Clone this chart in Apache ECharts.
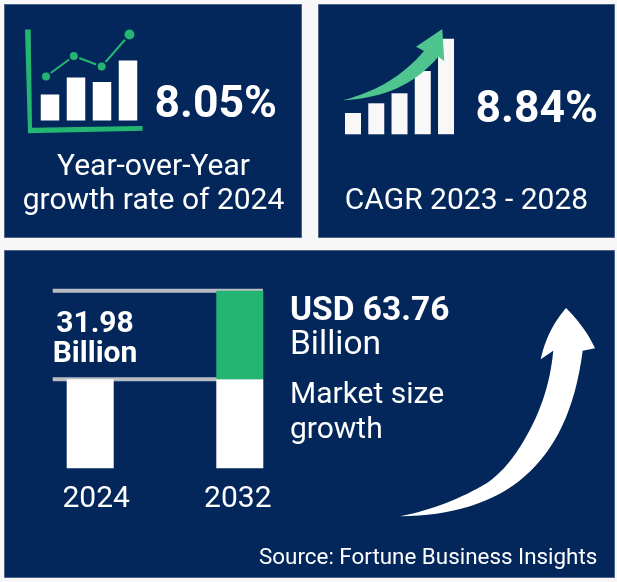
<!DOCTYPE html>
<html>
<head>
<meta charset="utf-8">
<title>Market size growth</title>
<script src="https://cdn.jsdelivr.net/npm/echarts@6/dist/echarts.min.js"></script>
<style>
html,body{margin:0;padding:0;background:#f7f7f8;}
#main{width:617px;height:582px;}
</style>
</head>
<body>
<div id="main"></div>
<script>
// main chart data (USD billion)
var years = ['2024', '2032'];
var baseValues = [31.98, 31.98];
var growthValues = [0, 31.78];
var guideValues = [31.98, 63.76];

// icon data
var yoyBars = [26, 43, 38.5, 60];
var yoyLine = [44, 64.5, 54, 86];
var cagrBars = [21.3, 31, 41, 63.3, 95.6];

var NAVY = '#03275a';
var GREEN = '#25b573';
var FONT = 'Roboto';

function panel(x, y, w, h) {
	return {
		type: 'rect', z: 0, silent: true,
		shape: { x: x, y: y, width: w, height: h },
		style: { fill: NAVY, stroke: '#4a6288', lineWidth: 1 }
	};
}
function label(text, x, y, size, weight, align) {
	return {
		type: 'text', z: 10, silent: true, x: x, y: y,
		style: {
			text: text, fill: '#fff', font: (weight || 400) + ' ' + size + 'px ' + FONT,
			textAlign: align || 'left', textVerticalAlign: 'middle'
		}
	};
}
function guide(v) {
	return {
		type: 'line', xAxisIndex: 1, yAxisIndex: 0, z: 1, silent: true, clip: false,
		showSymbol: false, symbol: 'none',
		lineStyle: { color: '#b9bdc4', width: 4 },
		data: [[0.1247, v], [0.8275, v]]
	};
}
function hiddenCat(grid, data, gap) {
	return { type: 'category', gridIndex: grid, data: data, show: false, boundaryGap: gap };
}
function hiddenVal(grid, max) {
	return { type: 'value', gridIndex: grid, min: 0, max: max, show: false };
}
// arrow outline: a point is [x,y], a curve is [c1x,c1y,c2x,c2y,x,y]
function outline(parts) {
	var pts = [parts[0]], i, k, t, s, p, c;
	for (i = 1; i < parts.length; i++) {
		c = parts[i];
		if (c.length == 2) { pts.push(c); continue; }
		p = pts[pts.length - 1];
		for (k = 1; k <= 16; k++) {
			t = k / 16; s = 1 - t;
			pts.push([
				s * s * s * p[0] + 3 * s * s * t * c[0] + 3 * s * t * t * c[2] + t * t * t * c[4],
				s * s * s * p[1] + 3 * s * s * t * c[1] + 3 * s * t * t * c[3] + t * t * t * c[5]
			]);
		}
	}
	return pts;
}

var myChart = echarts.init(document.getElementById('main'));
var option = {
	animation: false,
	backgroundColor: '#f7f7f8',
	grid: [
		{ left: 15.4, width: 299.2, top: 290.7, height: 177.6 },
		{ left: 37, width: 104, top: 20.5, height: 100 },
		{ left: 46, width: 83.5, top: 20.5, height: 100 },
		{ left: 341.4, width: 116.25, top: 34.3, height: 100 }
	],
	xAxis: [
		{
			type: 'category', gridIndex: 0, data: years,
			axisLine: { show: false }, axisTick: { show: false },
			axisLabel: {
				margin: 16,
				formatter: function (v) { return '{y' + v + '|' + v + '}'; },
				rich: {
					y2024: { color: '#fff', fontFamily: FONT, fontSize: 30, padding: [0, 0, 0, 12] },
					y2032: { color: '#fff', fontFamily: FONT, fontSize: 30, padding: [0, 4, 0, 0] }
				}
			}
		},
		{ type: 'value', gridIndex: 0, min: 0, max: 1, show: false },
		hiddenCat(1, ['a', 'b', 'c', 'd'], true),
		hiddenCat(2, ['a', 'b', 'c', 'd'], false),
		hiddenCat(3, ['a', 'b', 'c', 'd', 'e'], true)
	],
	yAxis: [
		{ type: 'value', gridIndex: 0, min: 0, max: 63.76, show: false },
		hiddenVal(1, 100),
		hiddenVal(2, 100),
		hiddenVal(3, 100)
	],
	series: [
		guide(guideValues[0]),
		guide(guideValues[1]),
		{
			type: 'bar', xAxisIndex: 0, yAxisIndex: 0, stack: 'size', barWidth: 47, z: 2, silent: true,
			itemStyle: { color: '#fff' }, data: baseValues
		},
		{
			type: 'bar', xAxisIndex: 0, yAxisIndex: 0, stack: 'size', barWidth: 47, z: 2, silent: true,
			itemStyle: { color: GREEN }, data: growthValues
		},
		{
			type: 'bar', xAxisIndex: 2, yAxisIndex: 1, barWidth: 18.5, silent: true,
			itemStyle: { color: '#fff' }, data: yoyBars
		},
		{
			type: 'line', xAxisIndex: 3, yAxisIndex: 2, silent: true, symbol: 'circle',
			symbolSize: function (v, p) { return p.dataIndex == 3 ? 12 : 10; },
			lineStyle: { color: GREEN, width: 2 },
			itemStyle: { color: GREEN, borderColor: NAVY, borderWidth: 2 },
			data: yoyLine
		},
		{
			type: 'bar', xAxisIndex: 4, yAxisIndex: 3, barWidth: 16, silent: true,
			itemStyle: { color: '#f8f8f8' }, data: cagrBars
		}
	],
	graphic: [
		panel(4.5, 4.5, 297, 233),
		panel(318.5, 4.5, 296, 233),
		panel(4.5, 250.5, 610, 327),
		// green axes of the first icon
		{
			type: 'polygon', z: 1, silent: true,
			shape: { points: [[25, 29.5], [30.7, 29.5], [32, 127.7], [142.5, 126], [142.7, 130.7], [28, 133.3]] },
			style: { fill: GREEN }
		},
		// green arrow of the second icon
		{
			type: 'polygon', z: 5, silent: true,
			shape: {
				points: outline([[342.7, 100.3], [375, 92, 403, 76, 424, 51], [416, 46.7], [442.3, 29], [444.3, 61], [438.3, 56.7],
					[415, 84, 385, 98, 342.7, 100.3]])
			},
			style: { fill: '#50c48f' }
		},
		// white arrow of the market panel
		{
			type: 'polygon', z: 5, silent: true,
			shape: {
				points: outline([[400, 516.3], [432, 510, 462, 498, 487, 483], [500, 474, 511, 461, 520, 447], [540, 415, 550, 385, 553.3, 350.7], [540.7, 359.3],
					[546, 335, 556, 320, 566, 308], [578, 320, 588, 333, 595, 348.3], [582.7, 350.7],
					[575, 410, 555, 450, 525, 476], [495, 503, 450, 516, 400, 516.3]])
			},
			style: { fill: '#fff' }
		},
		label('8.05%', 154.5, 106, 44.5, 700),
		label('Year-over-Year', 153.5, 167.3, 30, 400, 'center'),
		label('growth rate of 2024', 153.5, 201, 30, 400, 'center'),
		label('8.84%', 475.5, 110.6, 44.5, 700),
		label('CAGR 2023 - 2028', 466.5, 201.3, 30, 400, 'center'),
		label('31.98', 95, 324.3, 30, 700, 'center'),
		label('Billion', 95, 354, 30, 700, 'center'),
		label('USD 63.76', 290, 311.5, 33.5, 700),
		label('Billion', 290, 345.3, 33.5, 400),
		label('Market size', 290, 395.3, 30, 400),
		label('growth', 290, 430, 30, 400),
		label('Source: Fortune Business Insights', 259, 558.2, 22.4, 400)
	]
};
myChart.setOption(option);
</script>
</body>
</html>
